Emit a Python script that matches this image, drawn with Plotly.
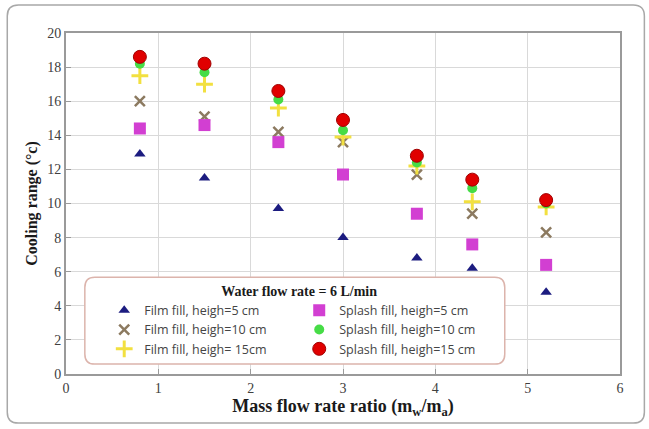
import plotly.graph_objects as go

# Mass flow rate ratio (mw/ma) for each test point
ratio = [0.8, 1.5, 2.3, 3.0, 3.8, 4.4, 5.2]

# Cooling range (°C) per fill type and fill height
film_5 = [12.9, 11.5, 9.7, 8.0, 6.8, 6.2, 4.8]
film_10 = [16.0, 15.1, 14.2, 13.6, 11.7, 9.4, 8.3]
film_15 = [17.5, 17.0, 15.6, 13.9, 12.2, 10.1, 9.8]
splash_5 = [14.4, 14.6, 13.6, 11.7, 9.4, 7.6, 6.4]
splash_10 = [18.2, 17.7, 16.1, 14.3, 12.4, 10.9, 10.0]
splash_15 = [18.6, 18.2, 16.6, 14.9, 12.8, 11.4, 10.2]

x_ticks = [0, 1, 2, 3, 4, 5, 6]
y_ticks = list(range(0, 21, 2))

# name, values, marker, legend rank (two columns: film left, splash right)
series = [
    ("Film fill, heigh=5 cm", film_5,
     dict(symbol="triangle-up", size=10, color="#1c1c80"), 1),
    ("Film fill, heigh=10 cm", film_10,
     dict(symbol="x-thin", size=10, color="#8c7a60", line=dict(width=2.5, color="#8c7a60")), 3),
    ("Film fill, heigh= 15cm", film_15,
     dict(symbol="cross-thin", size=12, color="#f2e040", line=dict(width=3, color="#f2e040")), 5),
    ("Splash fill, heigh=5 cm", splash_5,
     dict(symbol="square", size=12, color="#d23fd2"), 2),
    ("Splash fill, heigh=10 cm", splash_10,
     dict(symbol="circle", size=10, color="#46dc46"), 4),
    ("Splash fill, heigh=15 cm", splash_15,
     dict(symbol="circle", size=13, color="#e00000", line=dict(width=1, color="#a00000")), 6),
]

fig = go.Figure()
for name, vals, marker, rank in series:
    fig.add_trace(go.Scatter(
        x=ratio, y=vals, mode="markers", name=name,
        marker=marker, legendrank=rank,
    ))

axis_common = dict(
    showgrid=True, gridcolor="#d9d9d9", gridwidth=1,
    showline=True, linecolor="#9a9a9a", linewidth=2, mirror=True,
    ticks="inside", ticklen=5, tickcolor="#9a9a9a",
    zeroline=False,
    tickfont=dict(family="Liberation Serif", size=14, color="#404040"),
)

fig.update_xaxes(
    range=[0, 6], tickvals=x_ticks,
    title=dict(text="<b>Mass flow rate ratio (m<sub>w</sub>/m<sub>a</sub>)</b>",
               font=dict(family="Liberation Serif", size=18, color="#1a1a1a"),
               standoff=4),
    **axis_common,
)
fig.update_yaxes(
    range=[0, 20], tickvals=y_ticks,
    title=dict(text="<b>Cooling range (°c)</b>",
               font=dict(family="Liberation Serif", size=16, color="#1a1a1a"),
               standoff=6),
    **axis_common,
)

# rounded rectangle path in paper coordinates
def rounded_rect(x0, y0, x1, y1, rx, ry):
    return (f"M {x0+rx},{y0} L {x1-rx},{y0} Q {x1},{y0} {x1},{y0+ry} "
            f"L {x1},{y1-ry} Q {x1},{y1} {x1-rx},{y1} "
            f"L {x0+rx},{y1} Q {x0},{y1} {x0},{y1-ry} "
            f"L {x0},{y0+ry} Q {x0},{y0} {x0+rx},{y0} Z")

shapes = [
    # outer chart frame
    dict(type="path", xref="paper", yref="paper", layer="below",
         path=rounded_rect(-0.106, -0.144, 1.044, 1.082, 0.02, 0.032),
         line=dict(color="#a8a8a8", width=1.5), fillcolor="rgba(0,0,0,0)"),
    # legend box
    dict(type="path", xref="paper", yref="paper", layer="above",
         path=rounded_rect(0.034, 0.029, 0.792, 0.284, 0.018, 0.03),
         line=dict(color="#dcb4ac", width=1.5), fillcolor="white"),
]

fig.update_layout(
    width=649, height=429,
    margin=dict(l=66, r=29, t=33, b=55),
    paper_bgcolor="white", plot_bgcolor="white",
    shapes=shapes,
    showlegend=True,
    legend=dict(
        orientation="h", x=0.069, y=0.283, xanchor="left", yanchor="top",
        entrywidth=150, entrywidthmode="pixels",
        bgcolor="rgba(0,0,0,0)", borderwidth=0,
        font=dict(family="Open Sans", size=12.5, color="#444444"),
        title=dict(text="<b>Water flow rate = 6 L/min</b>", side="top center",
                   font=dict(family="Liberation Serif", size=14, color="#1a1a1a")),
        tracegroupgap=0, itemwidth=30,
    ),
)

fig.write_html("out.html")
